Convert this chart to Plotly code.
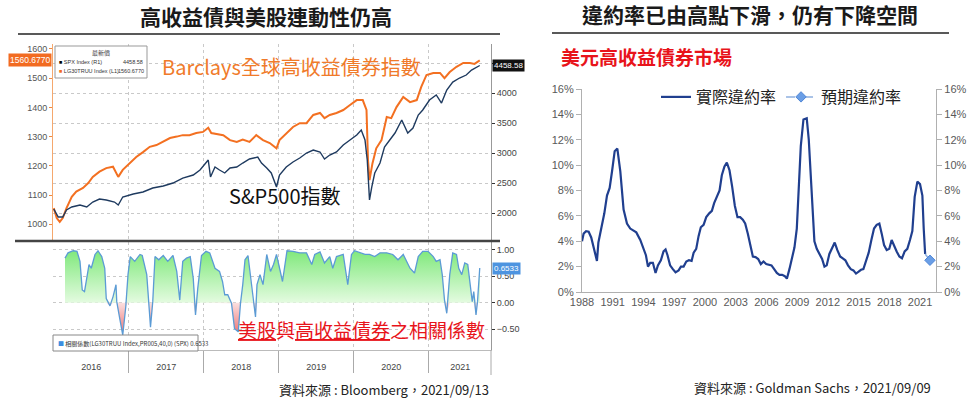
import numpy as np
import plotly.graph_objects as go

# ---------------- data ----------------
hy_years = [2016.00, 2016.04, 2016.08, 2016.12, 2016.17, 2016.24, 2016.30, 2016.39, 2016.46, 2016.52,
            2016.61, 2016.70, 2016.79, 2016.86, 2016.92, 2017.01, 2017.10, 2017.19, 2017.28, 2017.37,
            2017.46, 2017.55, 2017.64, 2017.72, 2017.81, 2017.90, 2017.99, 2018.06, 2018.10, 2018.17,
            2018.26, 2018.35, 2018.44, 2018.52, 2018.61, 2018.70, 2018.79, 2018.88, 2018.97, 2019.01,
            2019.10, 2019.19, 2019.28, 2019.37, 2019.46, 2019.55, 2019.61, 2019.68, 2019.77, 2019.86,
            2019.95, 2020.04, 2020.12, 2020.17, 2020.19, 2020.21, 2020.25, 2020.30, 2020.37, 2020.44,
            2020.50, 2020.57, 2020.66, 2020.75, 2020.84, 2020.90, 2020.97, 2021.06, 2021.15, 2021.21,
            2021.28, 2021.37, 2021.46, 2021.55, 2021.61, 2021.68]
hy_index = [1055, 1021, 1008, 1021, 1055, 1094, 1112, 1124, 1141, 1162,
            1180, 1192, 1197, 1162, 1186, 1209, 1230, 1247, 1265, 1271,
            1282, 1295, 1300, 1305, 1305, 1312, 1316, 1330, 1312, 1309,
            1305, 1288, 1282, 1290, 1282, 1305, 1288, 1278, 1260, 1288,
            1312, 1333, 1346, 1346, 1374, 1381, 1363, 1374, 1381, 1391,
            1408, 1425, 1425, 1391, 1220, 1151, 1209, 1260, 1288, 1367,
            1363, 1401, 1436, 1418, 1425, 1470, 1511, 1518, 1518, 1500,
            1521, 1539, 1552, 1552, 1549, 1560.677]

spx_years = [2016.00, 2016.06, 2016.12, 2016.17, 2016.24, 2016.35, 2016.44, 2016.52, 2016.61, 2016.70,
             2016.81, 2016.86, 2016.92, 2017.06, 2017.19, 2017.32, 2017.46, 2017.59, 2017.72, 2017.86,
             2017.95, 2018.01, 2018.06, 2018.09, 2018.15, 2018.21, 2018.28, 2018.35, 2018.44, 2018.52,
             2018.61, 2018.72, 2018.77, 2018.84, 2018.90, 2018.97, 2019.01, 2019.10, 2019.19, 2019.28,
             2019.37, 2019.46, 2019.55, 2019.61, 2019.68, 2019.77, 2019.86, 2019.95, 2020.04, 2020.10,
             2020.15, 2020.18, 2020.21, 2020.24, 2020.28, 2020.35, 2020.41, 2020.48, 2020.55, 2020.64,
             2020.72, 2020.79, 2020.86, 2020.92, 2021.01, 2021.10, 2021.17, 2021.24, 2021.32, 2021.41,
             2021.50, 2021.57, 2021.64, 2021.68]
spx_index = [2067, 1933, 1933, 2050, 2100, 2133, 2100, 2183, 2233, 2217,
             2183, 2133, 2267, 2317, 2350, 2417, 2450, 2500, 2583, 2633,
             2717, 2800, 2883, 2600, 2767, 2717, 2667, 2750, 2767, 2833,
             2900, 2933, 2833, 2750, 2667, 2433, 2633, 2767, 2850, 2917,
             3000, 3050, 3017, 2900, 2967, 3017, 3133, 3217, 3300, 3383,
             3217, 2883, 2217, 2433, 2667, 2833, 3100, 3217, 3333, 3550,
             3333, 3417, 3633, 3717, 3883, 3967, 3833, 4050, 4183, 4250,
             4300, 4383, 4433, 4458.58]

corr_years = [2016.15, 2016.19, 2016.26, 2016.31, 2016.35, 2016.38, 2016.41, 2016.44, 2016.47, 2016.50,
              2016.55, 2016.59, 2016.64, 2016.68, 2016.70, 2016.75, 2016.79, 2016.83, 2016.84, 2016.88,
              2016.92, 2016.96, 2016.99, 2017.02, 2017.08, 2017.15, 2017.18, 2017.24, 2017.27, 2017.29,
              2017.32, 2017.35, 2017.40, 2017.46, 2017.52, 2017.59, 2017.64, 2017.68, 2017.72, 2017.77,
              2017.82, 2017.86, 2017.89, 2017.92, 2017.97, 2018.03, 2018.08, 2018.15, 2018.21, 2018.25,
              2018.28, 2018.32, 2018.37, 2018.41, 2018.46, 2018.49, 2018.52, 2018.55, 2018.59, 2018.62,
              2018.66, 2018.69, 2018.71, 2018.75, 2018.79, 2018.84, 2018.89, 2018.93, 2018.97, 2019.01,
              2019.05, 2019.11, 2019.19, 2019.28, 2019.37, 2019.44, 2019.48, 2019.55, 2019.61, 2019.68,
              2019.72, 2019.77, 2019.86, 2019.92, 2019.97, 2020.01, 2020.08, 2020.15, 2020.21, 2020.28,
              2020.35, 2020.44, 2020.52, 2020.59, 2020.66, 2020.75, 2020.81, 2020.86, 2020.92, 2020.99,
              2021.06, 2021.10, 2021.15, 2021.18, 2021.21, 2021.24, 2021.28, 2021.32, 2021.37, 2021.40,
              2021.44, 2021.48, 2021.52, 2021.56, 2021.58, 2021.60, 2021.63, 2021.65, 2021.68]
corr_vals = [0.84, 0.94, 0.98, 0.97, 0.78, 0.24, 0.21, 0.46, 0.72, 0.65,
             0.91, 0.98, 0.87, 0.65, 0.08, -0.06, 0.11, 0.34, 0.02, -0.30,
             -0.61, -0.08, 0.53, 0.87, 0.78, 0.91, 0.89, 0.53, 0.02, -0.46,
             0.02, 0.87, 0.81, 0.89, 0.78, 0.89, 0.59, 0.05, 0.78, 0.84,
             0.87, 0.46, -0.23, 0.27, 0.89, 0.97, 0.94, 0.65, 0.59, 0.40,
             0.15, 0.15, -0.01, -0.49, -0.55, -0.01, 0.34, 0.81, 0.89, 0.53,
             -0.01, -0.27, 0.34, 0.53, 0.34, 0.91, 0.59, 0.72, 0.91, 0.68,
             0.40, 0.98, 0.97, 0.94, 0.94, 0.72, 0.91, 0.96, 0.75, 0.87,
             0.65, 0.87, 0.91, 0.34, 0.91, 0.98, 0.94, 0.91, 0.91, 0.87,
             0.94, 0.94, 0.91, 0.81, 0.91, 0.65, 0.56, 0.87, 0.97, 0.97,
             0.87, 0.78, 0.81, 0.53, 0.05, -0.20, 0.53, 0.94, 0.91, 0.65,
             0.53, 0.75, 0.72, 0.27, 0.02, 0.21, -0.23, 0.02, 0.6533]

year_labels = ["2016", "2017", "2018", "2019", "2020", "2021"]

dr_years = [1988.00, 1988.16, 1988.40, 1988.65, 1988.90, 1989.14, 1989.33, 1989.46, 1989.60, 1989.95,
            1990.18, 1990.44, 1990.70, 1990.93, 1991.19, 1991.45, 1991.74, 1992.06, 1992.39, 1992.71,
            1993.04, 1993.30, 1993.69, 1994.01, 1994.24, 1994.44, 1994.66, 1994.92, 1995.18, 1995.41,
            1995.70, 1995.96, 1996.16, 1996.35, 1996.60, 1996.87, 1997.13, 1997.43, 1997.66, 1997.92,
            1998.18, 1998.44, 1998.70, 1998.90, 1999.15, 1999.38, 1999.60, 1999.87, 2000.13, 2000.42,
            2000.68, 2000.90, 2001.17, 2001.43, 2001.65, 2001.91, 2002.14, 2002.40, 2002.66, 2002.92,
            2003.18, 2003.44, 2003.70, 2003.93, 2004.19, 2004.42, 2004.68, 2004.94, 2005.20, 2005.46,
            2005.72, 2005.98, 2006.24, 2006.50, 2006.76, 2007.02, 2007.28, 2007.54, 2007.80, 2008.00,
            2008.25, 2008.48, 2008.74, 2008.97, 2009.16, 2009.36, 2009.62, 2009.94, 2010.14, 2010.33,
            2010.53, 2010.69, 2010.92, 2011.18, 2011.44, 2011.67, 2011.89, 2012.15, 2012.41, 2012.67,
            2012.93, 2013.20, 2013.46, 2013.71, 2013.97, 2014.24, 2014.50, 2014.75, 2015.01, 2015.24,
            2015.47, 2015.73, 2015.99, 2016.25, 2016.51, 2016.77, 2017.03, 2017.26, 2017.49, 2017.75,
            2018.00, 2018.23, 2018.46, 2018.72, 2018.98, 2019.24, 2019.50, 2019.76, 2020.02, 2020.25,
            2020.48, 2020.74, 2021.00, 2021.23, 2021.36, 2021.50]
default_rate = [4.0, 4.6, 4.8, 4.75, 4.3, 3.5, 2.7, 2.45, 3.9, 5.3,
                6.2, 7.6, 8.2, 9.5, 11.1, 11.3, 9.5, 6.5, 5.4, 5.0,
                4.8, 4.7, 4.1, 3.3, 2.9, 2.0, 2.3, 2.3, 1.5, 2.1,
                2.5, 3.2, 3.35, 2.9, 2.1, 1.8, 1.55, 1.7, 2.0, 2.0,
                2.4, 2.5, 2.45, 3.1, 3.4, 4.4, 5.1, 5.3, 5.9, 6.2,
                6.4, 7.0, 7.5, 8.0, 9.2, 9.9, 10.2, 9.6, 8.3, 6.8,
                5.9, 5.9, 5.7, 5.4, 4.6, 3.8, 2.8, 2.75, 2.6, 2.2,
                2.4, 2.2, 2.15, 2.1, 1.8, 1.5, 1.35, 1.35, 1.25, 1.05,
                1.8, 2.5, 3.5, 5.0, 8.0, 11.5, 13.6, 13.7, 12.0, 9.0,
                6.0, 4.0, 3.4, 3.0, 2.6, 2.0, 2.1, 3.0, 3.5, 3.9,
                3.3, 2.8, 2.65, 2.5, 2.1, 1.8, 1.7, 1.45, 1.6, 1.75,
                1.8, 2.4, 3.1, 4.1, 5.0, 5.3, 5.4, 4.6, 3.7, 3.3,
                3.4, 4.1, 3.6, 3.2, 2.8, 2.65, 3.2, 3.4, 4.1, 4.8,
                7.5, 8.7, 8.5, 7.6, 5.0, 3.0]
pred_years = [2021.50, 2021.97]
pred_rate = [3.0, 2.5]

dr_tick_years = [1988, 1991, 1994, 1997, 2000, 2003, 2006, 2009, 2012, 2015, 2018, 2021]

# ---------------- helpers ----------------
W, H = 972, 400
def PX(x):
    return x / W
def PY(y):
    return 1 - y / H

CJK = "Noto Sans CJK TC"
NUM = "Liberation Sans Narrow, Liberation Sans, Arial"
ORANGE = "#f37021"
NAVY = "#1e3a5f"
RED = "#e8141b"

fig = go.Figure()

# ---- left top: HY index & SPX ----
fig.add_trace(go.Scatter(x=hy_years, y=hy_index, mode="lines", line=dict(color=ORANGE, width=2),
                         xaxis="x", yaxis="y", showlegend=False, hoverinfo="skip"))
fig.add_trace(go.Scatter(x=spx_years, y=spx_index, mode="lines", line=dict(color=NAVY, width=1.4),
                         xaxis="x", yaxis="y2", showlegend=False, hoverinfo="skip"))

# ---- left bottom: correlation ----
corr_arr = np.array(corr_vals)
fig.add_trace(go.Scatter(x=corr_years, y=np.maximum(corr_arr, 0), mode="lines", line=dict(width=0),
                         fill="tozeroy",
                         fillgradient=dict(type="vertical", start=0, stop=1.0,
                                           colorscale=[[0, "#e4fbe0"], [1, "#7ee87a"]]),
                         xaxis="x2", yaxis="y3", showlegend=False, hoverinfo="skip"))
fig.add_trace(go.Scatter(x=corr_years, y=np.minimum(corr_arr, 0), mode="lines", line=dict(width=0),
                         fill="tozeroy",
                         fillgradient=dict(type="vertical", start=0, stop=-0.6,
                                           colorscale=[[0, "#fbe0e0"], [1, "#ee7070"]]),
                         xaxis="x2", yaxis="y3", showlegend=False, hoverinfo="skip"))
fig.add_trace(go.Scatter(x=corr_years, y=corr_vals, mode="lines", line=dict(color="#5b9bd5", width=1.3),
                         xaxis="x2", yaxis="y3", showlegend=False, hoverinfo="skip"))

# ---- right: default rate ----
fig.add_trace(go.Scatter(x=dr_years, y=np.array(default_rate) / 100, mode="lines", name="實際違約率",
                         line=dict(color="#203f8f", width=2.2), xaxis="x3", yaxis="y4"))
fig.add_trace(go.Scatter(x=pred_years, y=np.array(pred_rate) / 100, mode="lines",
                         line=dict(color="#8fb0e0", width=1.5, dash="dash"),
                         xaxis="x3", yaxis="y4", showlegend=False, hoverinfo="skip"))
fig.add_trace(go.Scatter(x=pred_years[-1:], y=np.array(pred_rate[-1:]) / 100, mode="lines+markers",
                         name="預期違約率",
                         line=dict(color="#8fb0e0", width=1.5, dash="dash"),
                         marker=dict(symbol="diamond", size=8, color="#6a9ee6",
                                     line=dict(color="#4f86d6", width=1)),
                         xaxis="x3", yaxis="y4"))
# carrier for the mirrored right-hand percentage axis
fig.add_trace(go.Scatter(x=pred_years[-1:], y=np.array(pred_rate[-1:]) / 100, mode="markers",
                         marker=dict(opacity=0), xaxis="x3", yaxis="y5",
                         showlegend=False, hoverinfo="skip"))

grid = dict(showgrid=True, gridcolor="#c9c9c9", griddash="dot", gridwidth=1)

left_dom = [PX(53), PX(491)]
xr = [2015.99, 2021.83]

fig.update_layout(
    width=W, height=H, margin=dict(l=0, r=0, t=0, b=0, autoexpand=False),
    paper_bgcolor="white", plot_bgcolor="white",
    font=dict(family=CJK, color="#222"),
    xaxis=dict(domain=left_dom, range=xr, anchor="y", tickmode="array", automargin=False,
               tickvals=[2017, 2018, 2019, 2020, 2021], showticklabels=False, ticks="",
               zeroline=False, showline=False, **grid),
    yaxis=dict(domain=[PY(240), PY(44)], range=[946, 1617], anchor="x", side="left", automargin=False,
               tickvals=[1000, 1100, 1200, 1300, 1400, 1500, 1600], showgrid=False, zeroline=False,
               showline=True, linecolor="#f5a86e", linewidth=1, ticks="outside", ticklen=3,
               tickcolor="#f08a40", tickfont=dict(family=NUM, size=9, color="#555")),
    yaxis2=dict(range=[1550, 4817], overlaying="y", anchor="x", side="right", automargin=False,
                tickvals=[2000, 2500, 3000, 3500, 4000, 4500],
                ticktext=["2000", "2500", "3000", "3500", "4000", ""],
                zeroline=False, showline=True, linecolor="#999", linewidth=1, ticks="outside",
                ticklen=3, tickcolor="#333", tickfont=dict(family=NUM, size=9, color="#444"), **grid),
    xaxis2=dict(domain=left_dom, range=xr, anchor="y3", tickmode="array", automargin=False,
                tickvals=[2016.5, 2017.5, 2018.5, 2019.5, 2020.5, 2021.42],
                ticktext=year_labels, ticks="", showgrid=False, zeroline=False,
                showline=True, linecolor="#bbb", ticklabelstandoff=8,
                tickfont=dict(family=NUM, size=9, color="#444"),
                minor=dict(tickmode="array", tickvals=[2017, 2018, 2019, 2020, 2021],
                           ticks="outside", ticklen=22, tickcolor="#aaa", tickwidth=1,
                           showgrid=True, gridcolor="#c9c9c9", griddash="dot")),
    yaxis3=dict(domain=[PY(350), PY(242)], range=[-0.892, 1.145], anchor="x2", side="right",
                automargin=False,
                tickvals=[-0.5, 0, 0.5, 1.0], tickformat=".2f", zeroline=False,
                showline=True, linecolor="#999", ticks="outside", ticklen=3, tickcolor="#333",
                tickfont=dict(family=NUM, size=9, color="#444"), **grid),
    xaxis3=dict(domain=[PX(582), PX(936)], range=[1988, 2022.56], anchor="y4", tickmode="array",
                automargin=False,
                tickvals=dr_tick_years, ticks="", showgrid=False, zeroline=False,
                showline=True, linecolor="#b0b0b0", linewidth=1.2,
                tickfont=dict(family="Liberation Sans, Arial", size=11, color="#595959")),
    yaxis4=dict(domain=[PY(292), PY(89)], range=[0, 0.16], anchor="x3", dtick=0.02, tickformat=".0%",
                automargin=False,
                showgrid=False, zeroline=False, showline=True, linecolor="#b0b0b0", linewidth=1.2,
                ticks="outside", ticklen=5, tickcolor="#b0b0b0",
                tickfont=dict(family="Liberation Sans, Arial", size=11, color="#595959")),
    yaxis5=dict(range=[0, 0.16], overlaying="y4", anchor="x3", side="right", dtick=0.02,
                automargin=False,
                tickformat=".0%", showgrid=False, zeroline=False, showline=True, linecolor="#b0b0b0",
                linewidth=1.2, ticks="outside", ticklen=5, tickcolor="#b0b0b0",
                tickfont=dict(family="Liberation Sans, Arial", size=11, color="#595959")),
    legend=dict(orientation="h", x=PX(656), y=PY(97), xanchor="left", yanchor="middle",
                font=dict(family=CJK, size=16, color="#222"), bgcolor="rgba(0,0,0,0)",
                itemwidth=30, tracegroupgap=0),
)

ann = []
def A(text, x, y, size, color="#222", xanchor="center", bold=False, **kw):
    d = dict(text=text, x=x, y=y, xref=kw.pop("xref", "paper"), yref=kw.pop("yref", "paper"),
             showarrow=False, xanchor=xanchor, yanchor="middle",
             font=dict(family=kw.pop("family", CJK), size=size, color=color,
                       weight="bold" if bold else "normal"))
    d.update(kw)
    ann.append(d)

A("高收益債與美股連動性仍高", PX(266), PY(16), 21, "#1a1a1a", bold=True)
A("違約率已由高點下滑，仍有下降空間", PX(750), PY(14), 21, "#1a1a1a", bold=True)
A("美元高收益債券市場", PX(559), PY(57), 19, RED, xanchor="left", bold=True)
A("Barclays全球高收益債券指數", PX(160), PY(66), 20, "#f07a2a", xanchor="left")
A("S&P500指數", PX(227), PY(195), 20, "#111", xanchor="left")
A("<u>美股</u>與<u>高收益債券</u>之相關係數", PX(236), PY(329), 19, RED, xanchor="left")
A("資料來源 : Bloomberg，2021/09/13", PX(277), PY(389), 13, "#222", xanchor="left")
A("資料來源 : Goldman Sachs，2021/09/09", PX(692), PY(387), 13, "#222", xanchor="left")

# value tags
A("1560.6770", PX(52), hy_index[-1], 8.5, "white", xanchor="right", yref="y", family=NUM,
  bgcolor="#f26b21", borderpad=1)
A("4458.58", PX(492), spx_index[-1], 8, "white", xanchor="left", yref="y2", family=NUM,
  bgcolor="#111", borderpad=1)
A("0.6533", PX(492), corr_vals[-1], 8, "white", xanchor="left", yref="y3", family=NUM,
  bgcolor="#4d94e0", borderpad=1)

# tiny legend boxes
A("最新價", PX(101), PY(52), 6, "#444")
A("<span style='color:#000'>■</span> SPX Index (R1)", PX(57), PY(62), 5.5, "#333", xanchor="left", family=NUM)
A("4458.58", PX(145), PY(62), 5.5, "#333", xanchor="right", family=NUM)
A("<span style='color:#f26b21'>■</span> LG30TRUU Index (L1)", PX(57), PY(71), 5.5, "#333", xanchor="left", family=NUM)
A("1560.6770", PX(146), PY(71), 5.5, "#333", xanchor="right", family=NUM)
A("<span style='color:#3c8ee0'>■</span> 相關係數(LG30TRUU Index,PR005,40,0) (SPX) 0.6533", PX(56), PY(343),
  6, "#333", xanchor="left")

fig.update_layout(annotations=ann)

shapes = [
    dict(type="line", xref="paper", yref="paper", x0=PX(18), x1=PX(500), y0=PY(34), y1=PY(34),
         line=dict(color="#222", width=1.5)),
    dict(type="line", xref="paper", yref="paper", x0=PX(552), x1=PX(949), y0=PY(33), y1=PY(33),
         line=dict(color="#222", width=1.5)),
    dict(type="line", xref="paper", yref="paper", x0=PX(15), x1=PX(500), y0=PY(241), y1=PY(241),
         line=dict(color="#444", width=2.5)),
    dict(type="line", xref="paper", yref="paper", x0=PX(491), x1=PX(491), y0=PY(350), y1=PY(375),
         line=dict(color="#aaa", width=1)),
    dict(type="rect", xref="paper", yref="paper", x0=PX(55), x1=PX(147), y0=PY(78), y1=PY(46),
         fillcolor="white", line=dict(color="#999", width=1), layer="above"),
    dict(type="rect", xref="paper", yref="paper", x0=PX(53), x1=PX(198), y0=PY(351), y1=PY(335),
         fillcolor="white", line=dict(color="#888", width=1), layer="above"),
]
fig.update_layout(shapes=shapes)

fig.write_html("out.html", config={"displayModeBar": False},
               post_script="document.body.style.margin='0';document.body.style.overflow='hidden';")
